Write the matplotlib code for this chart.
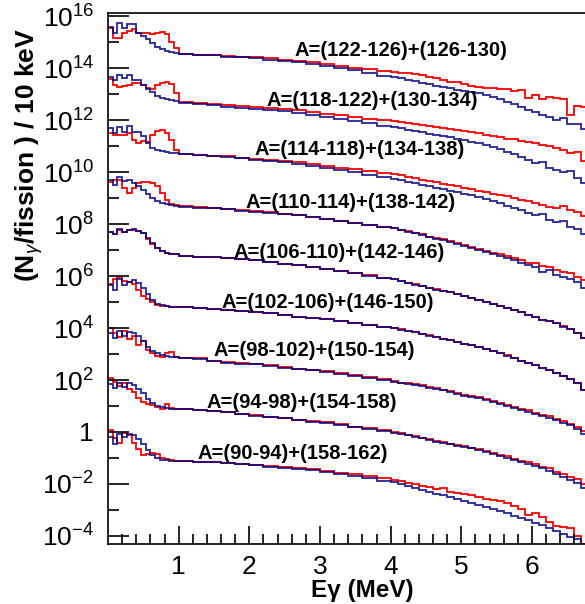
import numpy as np
import matplotlib
matplotlib.use("Agg")
import matplotlib.pyplot as plt
from matplotlib.ticker import FixedLocator, FuncFormatter, NullFormatter

plt.rcParams['font.family'] = ['Liberation Sans', 'DejaVu Sans']
plt.rcParams['mathtext.fontset'] = 'custom'
plt.rcParams['mathtext.rm'] = 'Liberation Sans'
plt.rcParams['mathtext.it'] = 'Liberation Sans:italic'
plt.rcParams['mathtext.bf'] = 'Liberation Sans:bold'

# energy bin edges (MeV): fine below 1 MeV, coarser above
edges = np.concatenate([np.linspace(0, 1.0, 16), np.arange(1.2, 4.01, 0.2), np.arange(4.1, 6.81, 0.1)])

# log10 of (N_gamma/fission)/10 keV, already scaled by 100 per pair (bottom pair first)
labels = ['A=(90-94)+(158-162)', 'A=(94-98)+(154-158)', 'A=(98-102)+(150-154)',
          'A=(102-106)+(146-150)', 'A=(106-110)+(142-146)', 'A=(110-114)+(138-142)',
          'A=(114-118)+(134-138)', 'A=(118-122)+(130-134)', 'A=(122-126)+(126-130)']

blue0 = [-0.19, -0.46, -0.08, -0.19, -0.08, -0.12, -0.27, -0.46, -0.69, -0.88, -1.00, -1.06, -1.08, -1.10, -1.12,
         -1.13, -1.15, -1.17, -1.19, -1.23, -1.27, -1.33, -1.38, -1.42, -1.48, -1.54, -1.62, -1.69, -1.77, -1.87,
         -1.94, -2.00, -2.08, -2.15, -2.23, -2.29, -2.37, -2.44, -2.50, -2.58, -2.65, -2.73, -2.81, -2.88, -2.96,
         -3.04, -3.13, -3.23, -3.31, -3.40, -3.50, -3.58, -3.69, -3.81, -3.92, -4.04, -4.12, -4.35]
red0 = [0.08, -0.23, -0.42, -0.04, -0.12, -0.42, -0.65, -0.88, -0.85, -0.81, -0.85, -1.00, -1.04, -1.08, -1.12,
        -1.13, -1.15, -1.16, -1.18, -1.22, -1.26, -1.31, -1.36, -1.39, -1.44, -1.50, -1.56, -1.62, -1.69, -1.77,
        -1.83, -1.88, -1.95, -2.00, -2.06, -2.12, -2.20, -2.15, -2.30, -2.35, -2.38, -2.42, -2.50, -2.56, -2.62,
        -2.65, -2.72, -2.85, -2.95, -3.20, -3.10, -3.27, -3.45, -3.60, -3.65, -3.70, -4.00, -4.30]

blue1 = [1.85, 1.69, 1.88, 1.73, 1.88, 1.81, 1.65, 1.50, 1.27, 1.12, 1.00, 0.96, 0.92, 0.90, 0.88,
         0.87, 0.83, 0.79, 0.75, 0.69, 0.63, 0.58, 0.52, 0.46, 0.40, 0.35, 0.27, 0.19, 0.12, 0.04,
         -0.02, -0.08, -0.13, -0.19, -0.25, -0.31, -0.37, -0.42, -0.48, -0.54, -0.58, -0.63, -0.69, -0.77, -0.85,
         -0.92, -1.00, -1.08, -1.15, -1.23, -1.31, -1.38, -1.50, -1.62, -1.73, -1.85, -1.96, -2.15]
red1 = [2.08, 1.92, 1.77, 1.88, 1.65, 1.54, 1.31, 1.15, 1.08, 1.04, 0.96, 0.88, 1.08, 0.92, 0.88,
        0.88, 0.85, 0.80, 0.77, 0.70, 0.64, 0.59, 0.53, 0.47, 0.42, 0.37, 0.29, 0.21, 0.14, 0.07,
        0.00, -0.05, -0.10, -0.16, -0.22, -0.28, -0.34, -0.40, -0.46, -0.50, -0.55, -0.60, -0.65, -0.73, -0.80,
        -0.88, -0.94, -1.04, -1.10, -1.17, -1.25, -1.35, -1.40, -1.52, -1.60, -1.75, -1.80, -2.02]

blue2 = [3.81, 3.62, 3.88, 3.69, 3.85, 3.81, 3.69, 3.50, 3.27, 3.12, 3.04, 2.96, 2.92, 2.88, 2.87,
         2.85, 2.79, 2.73, 2.67, 2.63, 2.60, 2.54, 2.48, 2.42, 2.37, 2.31, 2.23, 2.15, 2.08, 2.00,
         1.94, 1.88, 1.85, 1.81, 1.77, 1.71, 1.65, 1.60, 1.54, 1.46, 1.40, 1.35, 1.29, 1.23, 1.15,
         1.08, 1.00, 0.92, 0.85, 0.77, 0.69, 0.60, 0.54, 0.46, 0.35, 0.27, 0.12, -0.08]
red2 = [4.00, 3.81, 3.65, 3.88, 3.58, 3.69, 3.35, 3.50, 3.15, 3.04, 2.92, 2.88, 3.04, 3.08, 2.88,
        2.85, 2.83, 2.75, 2.69, 2.66, 2.61, 2.56, 2.50, 2.44, 2.39, 2.33, 2.26, 2.18, 2.10, 2.03,
        1.96, 1.90, 1.88, 1.83, 1.79, 1.73, 1.68, 1.62, 1.56, 1.50, 1.43, 1.38, 1.33, 1.26, 1.20,
        1.10, 1.05, 0.96, 0.90, 0.83, 0.74, 0.66, 0.60, 0.50, 0.42, 0.32, 0.18, 0.04]

blue3 = [5.65, 5.46, 5.88, 5.65, 5.77, 5.85, 5.73, 5.54, 5.31, 5.08, 4.92, 4.87, 4.84, 4.82, 4.81,
         4.79, 4.77, 4.73, 4.69, 4.65, 4.62, 4.56, 4.50, 4.44, 4.38, 4.33, 4.27, 4.19, 4.12, 4.04,
         4.00, 3.94, 3.88, 3.83, 3.77, 3.71, 3.65, 3.58, 3.52, 3.46, 3.38, 3.33, 3.27, 3.19, 3.12,
         3.04, 2.94, 2.85, 2.75, 2.65, 2.58, 2.46, 2.38, 2.27, 2.15, 2.04, 1.88, 1.62]
red3 = [5.69, 5.88, 5.96, 5.81, 5.77, 5.69, 5.46, 5.23, 5.12, 5.00, 4.88, 4.86, 4.84, 4.82, 4.81,
        4.79, 4.77, 4.74, 4.70, 4.65, 4.62, 4.57, 4.50, 4.44, 4.39, 4.33, 4.27, 4.20, 4.12, 4.04,
        4.00, 3.95, 3.88, 3.84, 3.77, 3.72, 3.65, 3.59, 3.52, 3.47, 3.38, 3.33, 3.28, 3.20, 3.12,
        3.05, 2.95, 2.86, 2.75, 2.66, 2.58, 2.47, 2.38, 2.28, 2.15, 2.05, 1.88, 1.63]

blue4 = [7.69, 7.62, 7.81, 7.69, 7.77, 7.81, 7.73, 7.65, 7.46, 7.27, 7.08, 6.96, 6.88, 6.85, 6.83,
         6.79, 6.75, 6.73, 6.69, 6.65, 6.60, 6.54, 6.46, 6.42, 6.35, 6.27, 6.19, 6.12, 6.02, 5.92,
         5.87, 5.81, 5.75, 5.67, 5.62, 5.54, 5.48, 5.42, 5.37, 5.29, 5.23, 5.15, 5.08, 5.00, 4.92,
         4.85, 4.77, 4.69, 4.60, 4.50, 4.42, 4.31, 4.27, 4.19, 4.04, 3.96, 3.81, 3.62]
red4 = [7.71, 7.62, 7.79, 7.69, 7.77, 7.79, 7.73, 7.65, 7.44, 7.25, 7.08, 6.96, 6.88, 6.85, 6.83,
        6.79, 6.75, 6.73, 6.70, 6.65, 6.60, 6.55, 6.46, 6.43, 6.35, 6.28, 6.19, 6.12, 6.03, 5.93,
        5.88, 5.82, 5.75, 5.68, 5.63, 5.55, 5.50, 5.42, 5.38, 5.30, 5.24, 5.16, 5.08, 5.02, 4.93,
        4.86, 4.78, 4.70, 4.62, 4.50, 4.44, 4.30, 4.28, 4.20, 4.06, 3.97, 3.82, 3.63]

blue5 = [9.69, 9.50, 9.81, 9.65, 9.69, 9.58, 9.46, 9.31, 9.15, 9.00, 8.88, 8.81, 8.77, 8.73, 8.71,
         8.67, 8.63, 8.60, 8.56, 8.52, 8.48, 8.44, 8.38, 8.33, 8.27, 8.19, 8.12, 8.04, 7.96, 7.88,
         7.83, 7.77, 7.71, 7.65, 7.58, 7.50, 7.44, 7.38, 7.31, 7.23, 7.15, 7.08, 7.00, 6.92, 6.85,
         6.77, 6.69, 6.60, 6.52, 6.42, 6.35, 6.15, 6.23, 6.04, 5.96, 5.88, 5.77, 5.54]
red5 = [9.62, 9.69, 9.69, 9.38, 9.19, 9.38, 9.58, 9.62, 9.62, 9.58, 9.46, 9.19, 8.92, 8.77, 8.73,
        8.68, 8.64, 8.60, 8.57, 8.53, 8.49, 8.45, 8.39, 8.34, 8.28, 8.20, 8.13, 8.05, 7.97, 7.89,
        7.84, 7.79, 7.73, 7.67, 7.60, 7.52, 7.47, 7.41, 7.33, 7.27, 7.20, 7.13, 7.05, 6.98, 6.90,
        6.86, 6.78, 6.69, 6.62, 6.52, 6.50, 6.38, 6.35, 6.23, 6.15, 6.10, 5.98, 5.85]

blue6 = [11.69, 11.50, 11.73, 11.54, 11.77, 11.54, 11.54, 11.38, 11.12, 10.92, 10.85, 10.81, 10.77, 10.75, 10.73,
         10.69, 10.65, 10.62, 10.58, 10.54, 10.48, 10.42, 10.37, 10.31, 10.23, 10.15, 10.08, 10.00, 9.90, 9.81,
         9.75, 9.69, 9.63, 9.58, 9.52, 9.46, 9.40, 9.35, 9.29, 9.23, 9.17, 9.12, 9.04, 8.96, 8.88,
         8.81, 8.71, 8.62, 8.54, 8.42, 8.35, 8.38, 8.15, 8.08, 8.12, 7.88, 7.81, 7.62]
red6 = [11.50, 11.42, 11.42, 11.42, 11.50, 11.23, 11.12, 11.19, 11.15, 11.42, 11.58, 11.62, 11.50, 11.23, 10.85,
        10.71, 10.67, 10.63, 10.60, 10.56, 10.52, 10.46, 10.42, 10.37, 10.31, 10.23, 10.17, 10.12, 10.04, 9.96,
        9.92, 9.87, 9.81, 9.77, 9.71, 9.65, 9.62, 9.56, 9.50, 9.46, 9.40, 9.35, 9.29, 9.23, 9.17,
        9.12, 9.06, 9.00, 8.94, 8.88, 8.81, 8.73, 8.65, 8.62, 8.69, 8.54, 8.46, 8.31]

blue7 = [13.65, 13.54, 13.73, 13.62, 13.73, 13.54, 13.54, 13.35, 13.19, 13.08, 12.92, 12.85, 12.81, 12.77, 12.73,
         12.65, 12.62, 12.58, 12.52, 12.48, 12.44, 12.40, 12.35, 12.27, 12.19, 12.12, 12.04, 11.96, 11.88, 11.79,
         11.73, 11.69, 11.63, 11.58, 11.54, 11.48, 11.42, 11.38, 11.33, 11.27, 11.23, 11.17, 11.12, 11.04, 10.96,
         10.87, 10.77, 10.69, 10.58, 10.46, 10.35, 10.38, 10.15, 10.08, 10.00, 10.04, 9.77, 9.58]
red7 = [13.58, 13.35, 13.27, 13.31, 13.35, 13.42, 13.42, 13.35, 13.23, 13.19, 13.35, 13.42, 13.46, 13.38, 13.04,
        12.69, 12.65, 12.62, 12.58, 12.54, 12.50, 12.46, 12.42, 12.37, 12.31, 12.25, 12.19, 12.12, 12.06, 12.00,
        11.96, 11.92, 11.88, 11.85, 11.81, 11.77, 11.73, 11.69, 11.65, 11.62, 11.58, 11.54, 11.50, 11.44, 11.38,
        11.35, 11.29, 11.27, 11.19, 11.15, 11.12, 11.04, 11.00, 10.92, 10.85, 10.73, 10.77, 10.42]

blue8 = [15.58, 15.35, 15.73, 15.54, 15.69, 15.69, 15.35, 15.23, 15.12, 14.96, 14.81, 14.73, 14.65, 14.62, 14.58,
         14.54, 14.52, 14.50, 14.44, 14.42, 14.38, 14.33, 14.29, 14.23, 14.15, 14.08, 14.00, 13.92, 13.83, 13.71,
         13.65, 13.60, 13.54, 13.50, 13.42, 13.37, 13.33, 13.27, 13.23, 13.17, 13.13, 13.08, 13.04, 12.96, 12.88,
         12.81, 12.69, 12.62, 12.50, 12.38, 12.31, 12.19, 12.12, 12.00, 12.08, 11.85, 11.85, 11.65]
red8 = [15.54, 15.15, 15.15, 15.35, 15.42, 15.50, 15.35, 15.35, 15.35, 15.31, 15.35, 15.38, 15.31, 15.00, 14.77,
        14.55, 14.52, 14.50, 14.46, 14.44, 14.41, 14.37, 14.33, 14.28, 14.22, 14.16, 14.08, 14.02, 13.96, 13.90,
        13.86, 13.83, 13.80, 13.76, 13.72, 13.66, 13.60, 13.55, 13.48, 13.45, 13.38, 13.30, 13.26, 13.25, 13.22,
        13.18, 13.20, 13.12, 13.15, 12.85, 12.95, 12.80, 12.90, 12.85, 12.82, 12.20, 12.55, 12.50]

blues = [blue0, blue1, blue2, blue3, blue4, blue5, blue6, blue7, blue8]
reds = [red0, red1, red2, red3, red4, red5, red6, red7, red8]

# label anchor (left edge in MeV, log10 height)
label_x = [1.26, 1.40, 1.49, 1.61, 1.77, 1.94, 2.07, 2.25, 2.645]
label_y = [-0.81, 1.12, 3.15, 5.0, 6.92, 8.81, 10.85, 12.77, 14.69]

fig = plt.figure(figsize=(5.85, 6.04), dpi=100)
ax = fig.add_axes([0.1846, 0.0993, 0.8154, 0.8792])

for r, b in zip(reds, blues):
    ax.stairs(10 ** np.array(r), edges, color='#ff0000', lw=1.3, baseline=None)
    ax.stairs(10 ** np.array(b), edges, color='#000088', lw=1.3, alpha=0.85, baseline=None)

for txt, lx, ly in zip(labels, label_x, label_y):
    ax.text(lx, 10 ** ly, txt, fontsize=14.5, fontweight='bold', ha='left', va='center')

ax.set_yscale('log')
ax.set_xlim(0, 6.75)
ax.set_ylim(10 ** -4.31, 10 ** 16.12)

# ROOT style ticks: inside, labels on even decades
ax.yaxis.set_major_locator(FixedLocator([10.0 ** k for k in range(-4, 17, 2)]))
ax.yaxis.set_minor_locator(FixedLocator([10.0 ** k for k in range(-3, 17, 2)]))
ax.yaxis.set_minor_formatter(NullFormatter())
ax.yaxis.set_major_formatter(FuncFormatter(
    lambda v, p: '1' if round(np.log10(v)) == 0 else r'$\mathregular{10^{%d}}$' % round(np.log10(v))))
ax.set_xticks([1, 2, 3, 4, 5, 6])
ax.set_xticks(np.arange(0.2, 6.75, 0.2), minor=True)
ax.tick_params(which='both', direction='in', top=False, right=False, labelsize=19)
ax.tick_params(axis='y', which='major', length=15, width=1.2, pad=10)
ax.tick_params(axis='y', which='minor', length=8, width=1.2)
ax.tick_params(axis='x', which='major', length=13, width=1.2, pad=8)
ax.tick_params(axis='x', which='minor', length=7, width=1.2)
ax.spines['right'].set_visible(False)
for s in ['left', 'bottom', 'top']:
    ax.spines[s].set_linewidth(1.2)

fig.text(0.05, 0.743, r'(N$_{\gamma}$/fission ) / 10 keV', rotation=90, fontsize=19,
         fontweight='bold', ha='center', va='center')
fig.text(0.62, 0.023, 'Eγ (MeV)', fontsize=17.5, fontweight='bold', ha='center', va='center')

fig.savefig('out.png', dpi=100)
